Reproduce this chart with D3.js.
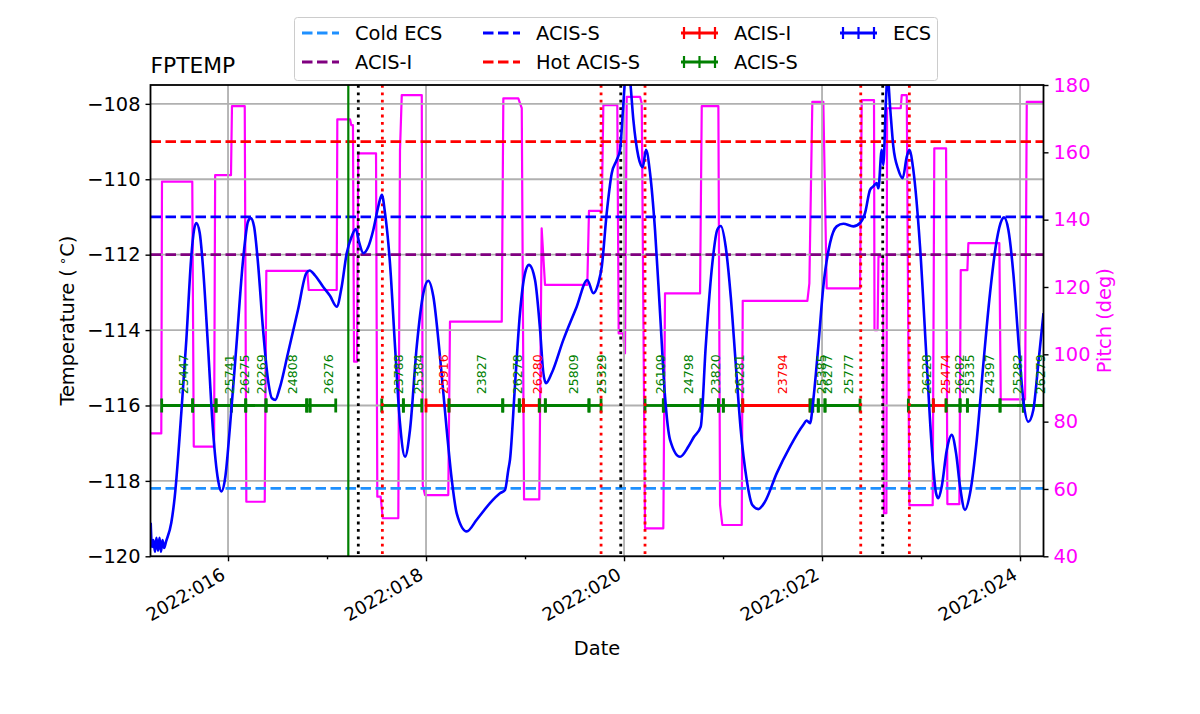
<!DOCTYPE html>
<html><head><meta charset="utf-8">
<script src="https://cdn.jsdelivr.net/npm/d3@7"></script>
<style>
body{margin:0;background:#fff}
svg{display:block}
text{font-family:"DejaVu Sans",sans-serif}
</style>
</head><body>
<svg id="chart" width="1200" height="714"></svg>
<script>
// ---------- DATA ----------
const tempTimes = [15.219,15.232,15.247,15.262,15.277,15.293,15.308,15.323,15.338,15.354,
15.374,15.427,15.462,15.528,15.579,15.629,15.657,15.680,15.714,15.747,
15.798,15.848,15.899,15.932,15.973,16.017,16.084,16.152,16.202,16.229,
16.263,16.303,16.354,16.404,16.444,16.478,16.522,16.606,16.707,16.791,
16.825,16.876,16.960,17.030,17.098,17.148,17.199,17.249,17.290,17.326,
17.367,17.417,17.468,17.518,17.553,17.586,17.636,17.687,17.737,17.788,
17.838,17.906,17.973,18.023,18.074,18.141,18.209,18.260,18.310,18.411,
18.512,18.646,18.747,18.798,18.831,18.848,18.899,18.949,19.000,19.040,
19.101,19.152,19.185,19.212,19.270,19.387,19.522,19.629,19.690,19.740,
19.775,19.825,19.876,19.926,19.960,19.987,20.010,20.030,20.061,20.094,
20.145,20.189,20.222,20.263,20.313,20.364,20.414,20.465,20.566,20.650,
20.707,20.775,20.825,20.892,20.942,20.977,21.027,21.078,21.128,21.179,
21.239,21.296,21.357,21.424,21.542,21.677,21.811,21.845,21.879,21.912,
21.962,22.013,22.081,22.148,22.215,22.316,22.384,22.434,22.485,22.518,
22.552,22.569,22.603,22.619,22.646,22.662,22.687,22.720,22.771,22.815,
22.856,22.882,22.922,22.990,23.058,23.108,23.152,23.175,23.209,23.260,
23.310,23.354,23.394,23.444,23.495,23.563,23.630,23.697,23.765,23.815,
23.838,23.882,23.932,23.983,24.033,24.084,24.134,24.185,24.237];
const tempValues = [-119.11,-119.75,-119.57,-119.88,-119.51,-119.85,-119.51,-119.88,-119.57,-119.78,
-119.61,-119.11,-118.42,-116.20,-114.26,-112.05,-111.34,-111.16,-111.42,-112.32,
-114.44,-116.65,-117.97,-118.28,-117.89,-116.65,-114.44,-112.14,-111.12,-111.03,
-111.25,-112.23,-113.99,-115.32,-115.81,-115.85,-115.54,-114.61,-113.46,-112.49,
-112.42,-112.54,-112.85,-113.09,-113.38,-112.85,-111.96,-111.52,-111.32,-111.69,
-111.96,-111.79,-111.34,-110.72,-110.41,-110.90,-112.23,-114.44,-116.47,-117.36,
-116.65,-114.44,-113.02,-112.69,-113.11,-114.70,-116.65,-117.97,-118.86,-119.34,
-119.03,-118.59,-118.33,-118.24,-117.71,-117.44,-115.45,-113.55,-112.49,-112.27,
-112.67,-113.99,-115.14,-115.41,-115.14,-114.26,-113.38,-112.67,-113.02,-112.76,
-112.32,-110.90,-109.84,-109.49,-109.22,-108.25,-107.36,-106.80,-107.36,-108.42,
-109.40,-109.68,-109.22,-109.84,-111.34,-113.55,-115.76,-116.91,-117.36,-117.09,
-116.83,-116.56,-114.44,-112.23,-111.34,-111.24,-111.79,-113.11,-114.88,-116.65,
-117.97,-118.64,-118.75,-118.55,-117.80,-117.09,-116.51,-116.40,-116.47,-115.85,
-114.44,-112.85,-111.69,-111.25,-111.18,-111.25,-111.16,-110.90,-110.28,-110.19,
-110.10,-110.24,-109.22,-109.62,-107.89,-107.23,-108.07,-109.13,-109.75,-109.97,
-109.40,-109.22,-109.75,-111.79,-114.88,-117.09,-118.33,-118.46,-118.15,-117.18,
-116.78,-117.27,-118.15,-118.77,-118.33,-116.91,-114.88,-113.02,-111.61,-111.08,
-111.01,-111.34,-112.49,-114.26,-115.85,-116.43,-116.12,-114.88,-113.55];

const pitchTimes = [15.217,15.326,15.333,15.639,15.654,15.859,15.870,16.030,16.040,16.169,
16.185,16.371,16.387,16.801,16.815,17.098,17.104,17.232,17.245,17.262,
17.273,17.303,17.315,17.495,17.508,17.542,17.563,17.720,17.737,17.755,
17.957,17.967,17.990,18.225,18.242,18.765,18.781,18.932,18.967,18.990,
19.144,19.168,19.202,19.629,19.646,19.775,19.791,19.932,19.946,19.990,
20.010,20.027,20.162,20.179,20.212,20.397,20.414,20.768,20.785,20.953,
20.970,20.993,21.189,21.199,21.852,21.872,21.902,22.013,22.047,22.384,
22.401,22.525,22.530,22.561,22.570,22.616,22.625,22.650,22.657,22.795,
22.805,22.856,22.882,23.118,23.134,23.253,23.266,23.387,23.401,23.468,
23.478,23.791,23.805,24.051,24.068,24.237];
const pitchValues = [76.5,76.5,151.3,151.3,72.6,72.6,153.2,153.2,173.7,173.7,
56.2,56.2,124.8,124.8,119.1,119.1,169.8,169.8,168.1,168.1,
97.8,97.8,159.7,159.7,57.7,57.7,51.3,51.3,160.5,177.0,
177.0,61.2,58.2,58.2,109.7,109.7,176.0,176.0,173.1,56.9,
56.9,137.4,120.6,120.6,142.6,142.6,174.0,174.0,106.2,106.2,
100.3,176.5,176.5,174.5,48.3,48.3,118.1,118.1,173.7,173.7,
55.2,49.3,49.3,115.9,115.9,121.1,175.0,175.0,119.6,119.6,
175.5,175.5,107.2,107.2,129.0,129.0,52.8,52.8,173.1,173.1,
177.0,177.0,55.2,55.2,161.2,161.2,55.5,55.5,125.0,125.0,
133.0,133.0,86.6,86.6,175.0,175.0];

const obsStart = [15.330,15.643,15.879,16.033,16.179,16.384,16.795,16.828,17.553,17.771,
18.000,18.232,18.775,18.942,18.983,19.144,19.205,19.646,20.212,20.397,
20.778,20.953,21.003,21.199,21.879,21.906,21.962,22.030,22.872,23.124,
23.253,23.394,23.468,23.798,24.033];
const obsEnd = [15.643,15.879,16.033,16.179,16.384,16.795,16.828,17.088,17.771,17.957,
18.232,18.775,18.942,18.983,19.144,19.205,19.646,19.768,20.397,20.778,
20.953,21.003,21.199,21.879,21.906,21.962,22.030,22.384,23.124,23.253,
23.394,23.468,23.798,24.033,24.263];
const obsIds = ["25447","","25741","26275","26269","24808","","26276","23788","25384",
"25916","23827","26278","","26280","","25809","25329","26109","24798",
"23820","","26281","23794","","25385","26277","25777","26228","25474",
"26282","25335","24397","25282","26279"];
const obsInst = ["ACIS-S","ACIS-S","ACIS-S","ACIS-S","ACIS-S","ACIS-S","ACIS-S","ACIS-S","ACIS-S","ACIS-S",
"ACIS-I","ACIS-S","ACIS-S","ACIS-S","ACIS-I","ACIS-S","ACIS-S","ACIS-S","ACIS-S","ACIS-S",
"ACIS-S","ACIS-S","ACIS-S","ACIS-I","ACIS-S","ACIS-S","ACIS-S","ACIS-S","ACIS-S","ACIS-I",
"ACIS-S","ACIS-S","ACIS-S","ACIS-S","ACIS-S"];
const obsBarTemp = -116.0;

const limitNames = ["Cold ECS","ACIS-I","ACIS-S","Hot ACIS-S"];
const limitValues = [-118.2,-112.0,-111.0,-109.0];

const redDottedTimes = [17.559,19.768,20.212,22.391,22.882];
const blackDottedTimes = [17.316,19.967,22.613];
const greenLineTimes = [17.215];

const xTickDays = [16,18,20,22,24];
const xTickLabels = ["2022:016","2022:018","2022:020","2022:022","2022:024"];
const xMinorDays = [17,19,21,23];
const tempTicks = [-120,-118,-116,-114,-112,-110,-108];
const pitchTicks = [40,60,80,100,120,140,160,180];

// ---------- STYLE ----------
const C = {
  temp:"#0000ff", pitch:"#ff00ff", grid:"#b0b0b0",
  limits:{"Cold ECS":"#1e90ff","ACIS-I":"#800080","ACIS-S":"#0000ff","Hot ACIS-S":"#ff0000"},
  inst:{"ACIS-S":"#008000","ACIS-I":"#ff0000"}
};
const FS = 19.4;
const P = {left:150.5,right:1043.5,top:85,bottom:556.3};

const svg = d3.select("#chart");
const x = d3.scaleLinear().domain([15.217,24.237]).range([P.left,P.right]);
const y = d3.scaleLinear().domain([-120,-107.5]).range([P.bottom,P.top]);
const y2 = d3.scaleLinear().domain([40,180]).range([P.bottom,P.top]);

svg.append("defs").append("clipPath").attr("id","plotclip")
  .append("rect").attr("x",P.left).attr("y",P.top)
  .attr("width",P.right-P.left).attr("height",P.bottom-P.top);

const plot = svg.append("g").attr("clip-path","url(#plotclip)");

// pitch (secondary axis, drawn beneath)
const pitchPts = pitchTimes.map((t,i)=>[t,pitchValues[i]]);
plot.append("path").datum(pitchPts)
  .attr("fill","none").attr("stroke",C.pitch).attr("stroke-width",2.2)
  .attr("stroke-linejoin","round")
  .attr("d",d3.line().x(d=>x(d[0])).y(d=>y2(d[1])));

// grid
plot.selectAll(".hg").data(tempTicks).enter().append("line")
  .attr("x1",P.left).attr("x2",P.right).attr("y1",d=>y(d)).attr("y2",d=>y(d))
  .attr("stroke",C.grid).attr("stroke-width",1.8);
plot.selectAll(".vg").data(xTickDays).enter().append("line")
  .attr("x1",d=>x(d)).attr("x2",d=>x(d)).attr("y1",P.top).attr("y2",P.bottom)
  .attr("stroke",C.grid).attr("stroke-width",1.8);

// limit lines
limitNames.forEach((n,i)=>{
  plot.append("line").attr("x1",P.left).attr("x2",P.right)
    .attr("y1",y(limitValues[i])).attr("y2",y(limitValues[i]))
    .attr("stroke",C.limits[n]).attr("stroke-width",2.8)
    .attr("stroke-dasharray","10.5,4.5");
});

// obsid bars
const bars = plot.append("g");
obsStart.forEach((s,i)=>{
  const col = C.inst[obsInst[i]];
  const yy = y(obsBarTemp);
  bars.append("line").attr("x1",x(s)).attr("x2",x(obsEnd[i])).attr("y1",yy).attr("y2",yy)
    .attr("stroke",col).attr("stroke-width",2.8);
  [s,obsEnd[i]].forEach(t=>{
    bars.append("line").attr("x1",x(t)).attr("x2",x(t)).attr("y1",yy-7).attr("y2",yy+7)
      .attr("stroke",col).attr("stroke-width",2.8);
  });
});

// vertical markers
plot.selectAll(".gl").data(greenLineTimes).enter().append("line")
  .attr("x1",d=>x(d)).attr("x2",d=>x(d)).attr("y1",P.top).attr("y2",P.bottom)
  .attr("stroke","#008000").attr("stroke-width",2.2);
plot.selectAll(".bd").data(blackDottedTimes).enter().append("line")
  .attr("x1",d=>x(d)).attr("x2",d=>x(d)).attr("y1",P.top).attr("y2",P.bottom)
  .attr("stroke","#000").attr("stroke-width",2.8).attr("stroke-dasharray","2.8,4.6");
plot.selectAll(".rd").data(redDottedTimes).enter().append("line")
  .attr("x1",d=>x(d)).attr("x2",d=>x(d)).attr("y1",P.top).attr("y2",P.bottom)
  .attr("stroke","#ff0000").attr("stroke-width",2.8).attr("stroke-dasharray","2.8,4.6");

// temperature
const tempPts = tempTimes.map((t,i)=>[t,tempValues[i]]);
plot.append("path").datum(tempPts)
  .attr("fill","none").attr("stroke",C.temp).attr("stroke-width",2.6)
  .attr("stroke-linejoin","round")
  .attr("d",d3.line().curve(d3.curveMonotoneX).x(d=>x(d[0])).y(d=>y(d[1])));

// obsid labels
obsIds.forEach((id,i)=>{
  if(!id) return;
  const mid = (obsStart[i]+obsEnd[i])/2;
  svg.append("text")
    .attr("transform",`translate(${x(mid)+6},${y(obsBarTemp+0.3)}) rotate(-90)`)
    .attr("dominant-baseline","central")
    .attr("font-size",12.5).attr("fill",C.inst[obsInst[i]]).text(id);
});

// spines
svg.append("rect").attr("x",P.left).attr("y",P.top)
  .attr("width",P.right-P.left).attr("height",P.bottom-P.top)
  .attr("fill","none").attr("stroke","#000").attr("stroke-width",1.8);

// axes
function styleAxis(g,col,fs){
  g.select(".domain").remove();
  g.selectAll(".tick line").attr("stroke","#000").attr("stroke-width",1.4);
  g.selectAll(".tick text").attr("font-size",fs).attr("fill",col)
    .attr("font-family","DejaVu Sans");
}
const gl = svg.append("g").attr("transform",`translate(${P.left},0)`)
  .call(d3.axisLeft(y).tickValues(tempTicks).tickSize(5).tickPadding(5));
styleAxis(gl,"#000",FS);
const gr = svg.append("g").attr("transform",`translate(${P.right},0)`)
  .call(d3.axisRight(y2).tickValues(pitchTicks).tickSize(5).tickPadding(5));
styleAxis(gr,C.pitch,FS);
const gb = svg.append("g").attr("transform",`translate(0,${P.bottom})`)
  .call(d3.axisBottom(x).tickValues(xTickDays).tickFormat((d,i)=>xTickLabels[i]).tickSize(5));
styleAxis(gb,"#000",18.2);
gb.selectAll(".tick text").attr("y",0).attr("dy",0).attr("text-anchor","end")
  .attr("transform","translate(-2,22) rotate(-30)");
const gm = svg.append("g").attr("transform",`translate(0,${P.bottom})`)
  .call(d3.axisBottom(x).tickValues(xMinorDays).tickFormat("").tickSize(3));
styleAxis(gm,"#000",FS);

// axis labels
svg.append("text").attr("x",(P.left+P.right)/2).attr("y",655).attr("text-anchor","middle")
  .attr("font-size",FS).text("Date");
const yl = svg.append("text").attr("transform",`translate(74,${(P.top+P.bottom)/2}) rotate(-90)`)
  .attr("text-anchor","middle").attr("font-size",FS);
yl.append("tspan").text("Temperature (");
yl.append("tspan").attr("font-size",13).attr("dy",-7).text(" ∘");
yl.append("tspan").attr("dy",7).text("C)");
svg.append("text").attr("transform",`translate(1111,${(P.top+P.bottom)/2}) rotate(-90)`)
  .attr("text-anchor","middle").attr("font-size",FS).attr("fill",C.pitch).text("Pitch (deg)");
svg.append("text").attr("x",P.left).attr("y",73).attr("font-size",21.8).text("FPTEMP");

// legend
const lg = svg.append("g");
lg.append("rect").attr("x",294.5).attr("y",17.5).attr("width",643).attr("height",63)
  .attr("rx",3).attr("fill","#fff").attr("fill-opacity",0.8).attr("stroke","#cccccc").attr("stroke-width",1);
const legendItems = [
  {label:"Cold ECS",type:"dash",color:C.limits["Cold ECS"],col:0,row:0},
  {label:"ACIS-I",type:"dash",color:C.limits["ACIS-I"],col:0,row:1},
  {label:"ACIS-S",type:"dash",color:C.limits["ACIS-S"],col:1,row:0},
  {label:"Hot ACIS-S",type:"dash",color:C.limits["Hot ACIS-S"],col:1,row:1},
  {label:"ACIS-I",type:"err",color:C.inst["ACIS-I"],col:2,row:0},
  {label:"ACIS-S",type:"err",color:C.inst["ACIS-S"],col:2,row:1},
  {label:"ECS",type:"err",color:C.temp,col:3,row:0}
];
const colX = [302,483,681,840];
const rowY = [33,62];
legendItems.forEach(it=>{
  const x0 = colX[it.col], yy = rowY[it.row], len = 37;
  if(it.type==="dash"){
    lg.append("line").attr("x1",x0).attr("x2",x0+len).attr("y1",yy).attr("y2",yy)
      .attr("stroke",it.color).attr("stroke-width",2.8).attr("stroke-dasharray","10.5,4.5");
  } else {
    lg.append("line").attr("x1",x0).attr("x2",x0+len).attr("y1",yy).attr("y2",yy)
      .attr("stroke",it.color).attr("stroke-width",2.8);
    [x0+3,x0+len/2,x0+len-3].forEach(tx=>{
      lg.append("line").attr("x1",tx).attr("x2",tx).attr("y1",yy-6).attr("y2",yy+6)
        .attr("stroke",it.color).attr("stroke-width",2.2);
    });
  }
  lg.append("text").attr("x",x0+len+16).attr("y",yy).attr("dominant-baseline","central")
    .attr("font-size",FS).text(it.label);
});
</script>
</body></html>
